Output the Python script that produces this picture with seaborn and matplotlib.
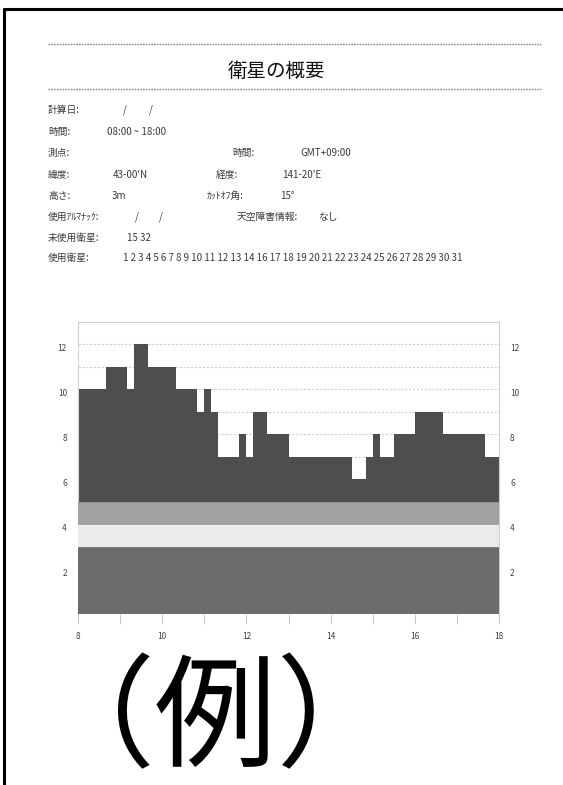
import numpy as np
import pandas as pd
import matplotlib
matplotlib.use("Agg")
import matplotlib.pyplot as plt
from matplotlib.lines import Line2D
import seaborn as sns

# ---------------- data ----------------
# number of satellites per 10-minute slot, 08:00 -> 18:00
sat_counts = [10, 10, 10, 10, 11, 11, 11, 10, 12, 12,
              11, 11, 11, 11, 10, 10, 10, 9, 10, 9,
              7, 7, 7, 8, 7, 9, 9, 8, 8, 8,
              7, 7, 7, 7, 7, 7, 7, 7, 7, 6,
              6, 7, 8, 7, 7, 8, 8, 8, 9, 9,
              9, 9, 8, 8, 8, 8, 8, 8, 7, 7]
start_hour = 8
end_hour = 18
band_levels = [0, 3, 4, 5]          # lower reference bands
band_colors = ["#6c6c6c", "#ebebeb", "#a2a2a2"]
y_ticks = [2, 4, 6, 8, 10, 12]
x_ticks = [8, 10, 12, 14, 16, 18]

title = "衛星の概要"
info_rows = [
    [("計算日:", 48), ("/", 123), ("/", 149)],
    [("時間:", 48), ("08:00 ~ 18:00", 107)],
    [("測点:", 48), ("時間:", 232), ("GMT+09:00", 300)],
    [("緯度:", 48), ("43-00'N", 113), ("経度:", 216), ("141-20'E", 282)],
    [("高さ:", 48), ("3m", 112), ("ｶｯﾄｵﾌ角:", 207), ("15°", 280)],
    [("使用ｱﾙﾏﾅｯｸ:", 48), ("/", 135), ("/", 159), ("天空障害情報:", 237), ("なし", 318)],
    [("未使用衛星:", 48), ("15 32", 127)],
    [("使用衛星:", 48), ("1 2 3 4 5 6 7 8 9 10 11 12 13 14 16 17 18 19 20 21 22 23 24 25 26 27 28 29 30 31", 123)],
]
row_y = [110, 132, 153, 175, 196, 217, 238, 258]
example_label = "（例）"

# ---------------- figure ----------------
W, H = 563, 785
sns.set_theme(style="white")
plt.rcParams["font.family"] = ["Noto Sans CJK JP", "DejaVu Sans"]

fig = plt.figure(figsize=(W / 100, H / 100), dpi=100)
fig.patch.set_facecolor("white")

def fx(px):
    return px / W

def fy(py):
    return 1 - py / H

# page border (top and left)
fig.add_artist(Line2D([fx(4), fx(563)], [fy(9), fy(9)], color="black", lw=2.2))
fig.add_artist(Line2D([fx(4), fx(4)], [fy(9), fy(785)], color="black", lw=2.2))

# header dotted lines
for yy in (44, 89):
    fig.add_artist(Line2D([fx(48), fx(541)], [fy(yy), fy(yy)], color="#8a8a8a",
                          lw=1.0, linestyle=(0, (1.2, 0.8))))

fig.text(fx(276), fy(71), title, ha="center", va="center", fontsize=14, color="#111111")

for row, yy in zip(info_rows, row_y):
    for txt, xx in row:
        fig.text(fx(xx), fy(yy), txt, ha="left", va="center", fontsize=7, color="#3a3a3a")

# ---------------- chart ----------------
ax = fig.add_axes([fx(78), fy(614), fx(499) - fx(78), fy(322) - fy(614)])
n = len(sat_counts)
edges = np.linspace(start_hour, end_hour, n + 1)
df = pd.DataFrame({"time": (edges[:-1] + edges[1:]) / 2, "count": sat_counts})

ax.set_axisbelow(True)
for yv in range(1, 13):
    ax.axhline(yv, color="#d0d0d0", lw=0.8, linestyle=(0, (2, 1.5)), zorder=0)

sns.histplot(data=df, x="time", weights="count", bins=n, binrange=(start_hour, end_hour),
             element="step", fill=True, color="#4e4e4e", alpha=1, linewidth=0, ax=ax, zorder=2)

for lo, hi, c in zip(band_levels[:-1], band_levels[1:], band_colors):
    ax.axhspan(lo, hi, color=c, lw=0, zorder=3)
    ax.axhline(hi, color="#8a8a8a", lw=0.5, zorder=3.5)

ax.set_xlim(start_hour, end_hour)
ax.set_ylim(0, 13)
ax.set_xlabel("")
ax.set_ylabel("")
ax.set_xticks(x_ticks)
ax.set_xticklabels([str(v) for v in x_ticks])
ax.set_xticks(list(range(start_hour + 1, end_hour, 2)), minor=True)
ax.set_yticks(y_ticks)
ax.set_yticklabels([str(v) for v in y_ticks])
ax.tick_params(axis="x", which="both", direction="out", length=7, width=0.6,
               color="#bbbbbb", labelsize=6, labelcolor="#444444", pad=6, bottom=True)
ax.tick_params(axis="y", which="both", length=0, labelsize=6, labelcolor="#444444",
               pad=8, left=True, right=True, labelleft=True, labelright=True)
for lab in ax.get_yticklabels():
    lab.set_va("top")
for sp in ax.spines.values():
    sp.set_color("#cfcfcf")
    sp.set_linewidth(0.8)
ax.spines["bottom"].set_visible(False)

# big example label
fig.text(fx(215), fy(660), example_label, ha="center", va="top", fontsize=88, color="black")

fig.savefig("out.png", dpi=100, facecolor="white")
